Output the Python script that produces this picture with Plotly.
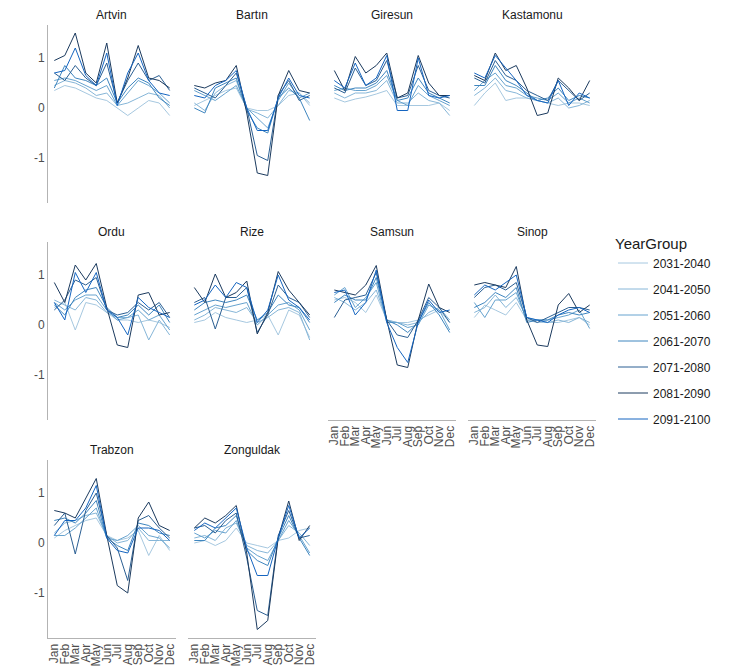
import plotly.graph_objects as go

months = ["Jan", "Feb", "Mar", "Apr", "May", "Jun", "Jul", "Aug", "Sep", "Oct", "Nov", "Dec"]
year_groups = ["2031-2040", "2041-2050", "2051-2060", "2061-2070", "2071-2080", "2081-2090", "2091-2100"]
colors = ["#a6c8e0", "#86b6d8", "#67a3cf", "#3f86bf", "#2b5f93", "#1b3a5e", "#1565c0"]
provinces = ["Artvin", "Bartın", "Giresun", "Kastamonu", "Ordu", "Rize", "Samsun", "Sinop", "Trabzon", "Zonguldak"]
y_ticks = [-1, 0, 1]
y_tick_text = ["-1", "0", "1"]

artvin = [
    [0.35, 0.45, 0.40, 0.30, 0.20, 0.15, 0.00, -0.15, 0.00, 0.15, 0.10, -0.15],
    [0.45, 0.55, 0.50, 0.40, 0.25, 0.30, 0.05, 0.10, 0.20, 0.30, 0.25, 0.00],
    [0.55, 0.60, 0.55, 0.45, 0.35, 0.45, 0.05, 0.30, 0.55, 0.45, 0.30, 0.10],
    [0.40, 0.85, 0.60, 0.55, 0.45, 0.60, 0.10, 0.40, 0.60, 0.50, 0.20, 0.05],
    [0.70, 0.55, 0.85, 0.60, 0.45, 0.90, 0.10, 0.55, 0.90, 0.55, 0.65, 0.35],
    [0.95, 1.05, 1.50, 0.70, 0.50, 1.30, 0.10, 0.60, 1.25, 0.60, 0.55, 0.40],
    [0.70, 0.75, 1.20, 0.65, 0.45, 1.10, 0.05, 0.70, 1.10, 0.55, 0.30, 0.25],
]
bartin = [
    [0.05, 0.15, 0.25, 0.35, 0.40, 0.00, -0.05, -0.05, 0.05, 0.25, 0.30, 0.05],
    [0.10, -0.05, 0.30, 0.45, 0.55, -0.02, -0.10, -0.20, 0.05, 0.35, 0.30, 0.10],
    [0.35, 0.25, 0.15, 0.30, 0.45, 0.00, -0.20, -0.40, 0.15, 0.50, 0.20, 0.30],
    [0.00, -0.10, 0.40, 0.50, 0.60, -0.05, -0.40, -0.50, 0.20, 0.40, 0.20, -0.25],
    [0.40, 0.30, 0.20, 0.45, 0.70, 0.00, -0.95, -1.05, 0.25, 0.55, 0.15, 0.25],
    [0.45, 0.40, 0.50, 0.55, 0.85, -0.10, -1.30, -1.35, 0.25, 0.75, 0.35, 0.30],
    [0.25, 0.20, 0.45, 0.55, 0.75, 0.00, -0.45, -0.45, 0.20, 0.60, 0.25, 0.20],
]
giresun = [
    [0.20, 0.12, 0.18, 0.22, 0.28, 0.35, 0.05, 0.05, 0.05, 0.05, 0.10, -0.05],
    [0.30, 0.20, 0.30, 0.30, 0.35, 0.55, 0.10, 0.10, 0.30, 0.15, 0.10, -0.15],
    [0.35, 0.40, 0.35, 0.35, 0.45, 0.65, 0.15, 0.05, 0.45, 0.25, 0.15, 0.05],
    [0.45, 0.35, 0.40, 0.40, 0.50, 0.75, 0.15, 0.20, 0.60, 0.30, 0.20, 0.10],
    [0.40, 0.30, 0.80, 0.45, 0.55, 0.95, 0.20, 0.25, 0.85, 0.35, 0.25, 0.20],
    [0.75, 0.35, 1.03, 0.70, 0.85, 1.10, 0.20, 0.30, 1.05, 0.50, 0.25, 0.25],
    [0.55, 0.40, 0.90, 0.45, 0.60, 1.05, -0.05, -0.05, 1.00, 0.25, 0.20, 0.25],
]
kastamonu = [
    [0.05, 0.30, 0.50, 0.15, 0.20, 0.20, 0.15, 0.10, 0.05, 0.10, 0.10, 0.05],
    [0.25, 0.40, 0.60, 0.35, 0.30, 0.20, 0.15, 0.10, 0.20, 0.00, 0.05, 0.15],
    [0.35, 0.55, 0.70, 0.45, 0.40, 0.25, 0.20, 0.15, 0.30, 0.10, 0.20, 0.10],
    [0.45, 0.45, 0.85, 0.55, 0.45, 0.30, 0.15, 0.20, 0.40, 0.15, 0.25, 0.20],
    [0.60, 0.50, 0.95, 0.65, 0.55, 0.35, 0.25, 0.15, 0.55, 0.35, 0.15, 0.30],
    [0.65, 0.55, 1.10, 0.75, 0.85, 0.40, -0.15, -0.10, 0.60, 0.40, 0.15, 0.55],
    [0.70, 0.60, 1.05, 0.80, 0.55, 0.25, 0.15, 0.10, 0.55, 0.05, 0.30, 0.20],
]
ordu = [
    [0.35, 0.45, -0.10, 0.45, 0.40, 0.25, 0.10, 0.10, 0.05, 0.10, 0.05, -0.05],
    [0.50, 0.40, 0.30, 0.55, 0.50, 0.25, 0.15, 0.15, 0.20, -0.30, 0.10, -0.20],
    [0.45, 0.30, 0.50, 0.60, 0.60, 0.30, 0.10, 0.15, 0.30, 0.10, 0.20, -0.10],
    [0.40, 0.20, 0.55, 0.70, 0.75, 0.35, 0.15, 0.20, 0.40, 0.20, 0.40, 0.05],
    [0.30, 0.50, 0.90, 0.80, 0.95, 0.30, 0.20, 0.25, 0.45, 0.30, 0.45, 0.15],
    [0.85, 0.45, 1.20, 0.90, 1.23, 0.35, -0.40, -0.45, 0.60, 0.65, 0.20, 0.25],
    [0.45, 0.10, 1.05, 0.65, 1.05, 0.30, 0.15, -0.20, 0.55, 0.35, 0.25, 0.15],
]
rize = [
    [0.05, 0.10, 0.25, 0.15, 0.10, 0.05, 0.10, 0.20, -0.20, 0.30, 0.20, -0.25],
    [0.10, 0.20, 0.35, 0.30, 0.25, 0.35, 0.05, 0.15, 0.30, 0.35, 0.25, -0.30],
    [0.20, 0.30, 0.40, 0.35, 0.40, 0.45, 0.00, 0.20, 0.40, 0.45, 0.30, -0.10],
    [0.30, 0.45, 0.50, 0.45, 0.50, 0.60, 0.10, 0.25, 0.60, 0.40, 0.35, 0.05],
    [0.45, 0.55, -0.08, 0.55, 0.55, 0.75, -0.15, 0.20, 0.80, 0.55, 0.45, 0.15],
    [0.75, 0.45, 1.02, 0.55, 0.65, 0.88, -0.18, 0.25, 1.07, 0.70, 0.45, 0.20],
    [0.40, 0.50, 0.80, 0.55, 0.85, 0.75, 0.05, 0.30, 1.00, 0.50, 0.35, 0.10],
]
samsun = [
    [0.50, 0.55, 0.45, 0.25, 0.60, 0.10, 0.05, 0.05, 0.10, 0.20, 0.30, 0.05],
    [0.55, 0.45, 0.30, 0.45, 0.70, 0.10, 0.05, 0.00, 0.05, 0.25, 0.35, 0.10],
    [0.60, 0.75, 0.35, 0.55, 0.85, 0.05, 0.05, -0.05, 0.00, 0.40, 0.30, -0.10],
    [0.45, 0.60, 0.50, 0.50, 0.95, 0.10, 0.00, -0.15, 0.05, 0.45, 0.20, -0.15],
    [0.15, 0.50, 0.55, 0.60, 1.05, 0.10, -0.20, -0.25, 0.10, 0.55, 0.35, 0.05],
    [0.70, 0.65, 0.60, 0.80, 1.19, 0.10, -0.80, -0.85, 0.10, 0.82, 0.35, 0.25],
    [0.65, 0.70, 0.20, 0.45, 1.10, 0.05, -0.45, -0.75, 0.05, 0.50, 0.25, 0.30],
]
sinop = [
    [0.15, 0.40, 0.30, 0.20, 0.45, 0.10, 0.05, 0.05, 0.05, 0.10, 0.15, 0.00],
    [0.25, 0.35, 0.60, 0.35, 0.55, 0.15, 0.10, 0.05, 0.10, 0.05, 0.15, 0.05],
    [0.45, 0.15, 0.50, 0.50, 0.65, 0.10, 0.10, 0.10, 0.15, 0.20, 0.30, -0.07],
    [0.35, 0.45, 0.65, 0.55, 0.75, 0.05, 0.10, 0.10, 0.20, 0.25, 0.20, 0.25],
    [0.55, 0.75, 0.80, 0.70, 0.85, 0.15, 0.05, 0.15, 0.25, 0.35, 0.35, 0.30],
    [0.80, 0.85, 0.80, 0.75, 1.17, 0.10, -0.40, -0.43, 0.40, 0.63, 0.25, 0.40],
    [0.60, 0.80, 0.70, 0.85, 1.00, 0.15, 0.10, 0.05, 0.20, 0.30, 0.35, 0.25],
]
trabzon = [
    [0.10, 0.25, 0.35, 0.45, 0.50, 0.15, 0.05, 0.10, 0.25, -0.25, 0.15, -0.15],
    [0.20, 0.40, 0.45, 0.55, 0.60, 0.15, 0.00, 0.05, 0.30, 0.05, 0.05, 0.05],
    [0.15, 0.15, 0.30, 0.50, 0.70, 0.10, 0.05, 0.15, 0.35, 0.15, 0.10, -0.10],
    [0.45, 0.50, 0.40, 0.60, 0.85, 0.10, -0.05, -0.15, 0.40, 0.35, 0.20, 0.15],
    [0.35, 0.60, -0.22, 0.65, 1.00, 0.15, -0.10, -0.75, 0.45, 0.55, 0.30, 0.10],
    [0.65, 0.60, 0.50, 0.90, 1.29, 0.15, -0.85, -1.00, 0.50, 0.82, 0.35, 0.25],
    [0.15, 0.45, 0.45, 0.70, 1.15, 0.10, -0.15, -0.20, 0.30, 0.30, 0.25, 0.05],
]
zonguldak = [
    [0.00, 0.05, -0.05, 0.05, 0.30, 0.00, -0.05, -0.10, 0.05, 0.10, 0.25, 0.30],
    [0.10, 0.15, 0.05, 0.30, 0.40, -0.05, -0.15, -0.20, 0.05, 0.35, 0.20, -0.05],
    [0.20, 0.10, 0.25, 0.20, 0.45, -0.10, -0.25, -0.35, 0.05, 0.45, 0.15, -0.20],
    [0.05, 0.05, 0.30, 0.35, 0.55, -0.15, -0.35, -0.45, 0.10, 0.55, 0.10, -0.25],
    [0.30, 0.35, 0.20, 0.45, 0.60, -0.30, -1.35, -1.45, 0.15, 0.65, 0.10, 0.15],
    [0.30, 0.50, 0.40, 0.55, 0.75, -0.20, -1.73, -1.55, 0.10, 0.84, 0.05, 0.35],
    [0.25, 0.40, 0.30, 0.50, 0.70, -0.10, -0.65, -0.65, 0.10, 0.75, 0.10, 0.30],
]
data = [artvin, bartin, giresun, kastamonu, ordu, rize, samsun, sinop, trabzon, zonguldak]

# page body has an 8px default margin; work in reference pixels minus 8
OFF = 8
W, H = 744 - OFF, 669 - OFF
col_left = [48 - OFF, 188 - OFF, 328 - OFF, 468 - OFF]
panel_w = 128
row_top = [25 - OFF, 242 - OFF, 460 - OFF]
panel_h = 178
y_range = [-1.9, 1.66]

fig = go.Figure()
layout = {}
annotations = []
font_family = "Liberation Sans, Arial, sans-serif"

for i, (name, series) in enumerate(zip(provinces, data)):
    r, c = divmod(i, 4)
    ax = i + 1
    xa = "x" if ax == 1 else f"x{ax}"
    ya = "y" if ax == 1 else f"y{ax}"
    for k, (yg, vals) in enumerate(zip(year_groups, series)):
        fig.add_trace(go.Scatter(
            x=months, y=vals, mode="lines", name=yg,
            line=dict(color=colors[k], width=1),
            xaxis=xa, yaxis=ya, showlegend=(i == 0), legendgroup=yg,
        ))
    x0 = col_left[c] / W
    x1 = (col_left[c] + panel_w) / W
    y1 = 1 - row_top[r] / H
    y0 = 1 - (row_top[r] + panel_h) / H
    has_below = (i + 4) < len(provinces)
    layout["xaxis" if ax == 1 else f"xaxis{ax}"] = dict(
        domain=[x0, x1], anchor=ya, type="category",
        categoryorder="array", categoryarray=months,
        tickmode="array", tickvals=months, ticktext=months,
        range=[-0.6, 11.6], showgrid=False, zeroline=False,
        showline=not has_below, linecolor="#b3b3b3", linewidth=1,
        showticklabels=not has_below, tickangle=-90, ticks="",
        tickfont=dict(size=12, color="#4d4d4d", family=font_family),
        automargin=False,
    )
    layout["yaxis" if ax == 1 else f"yaxis{ax}"] = dict(
        domain=[y0, y1], anchor=xa, range=y_range,
        tickmode="array", tickvals=y_ticks, ticktext=y_tick_text,
        showgrid=False, zeroline=False,
        showline=(c == 0), linecolor="#b3b3b3", linewidth=1,
        showticklabels=(c == 0), ticks="",
        tickfont=dict(size=12, color="#4d4d4d", family=font_family),
        automargin=False,
    )
    annotations.append(dict(
        text=name, x=(x0 + x1) / 2, y=1 - (row_top[r] - 10) / H,
        xref="paper", yref="paper", showarrow=False,
        xanchor="center", yanchor="middle",
        font=dict(size=12, color="#1a1a1a", family=font_family),
    ))

fig.update_layout(
    **layout,
    annotations=annotations,
    width=W, height=H,
    margin=dict(l=0, r=0, t=0, b=0),
    plot_bgcolor="white", paper_bgcolor="white",
    font=dict(family=font_family),
    legend=dict(
        title=dict(text="YearGroup", font=dict(size=15, color="#1a1a1a")),
        x=(613 - OFF) / W, y=1 - (229 - OFF) / H, xanchor="left", yanchor="top",
        font=dict(size=12, color="#1a1a1a"), tracegroupgap=7,
        itemwidth=30,
    ),
)

fig.write_html("out.html")
